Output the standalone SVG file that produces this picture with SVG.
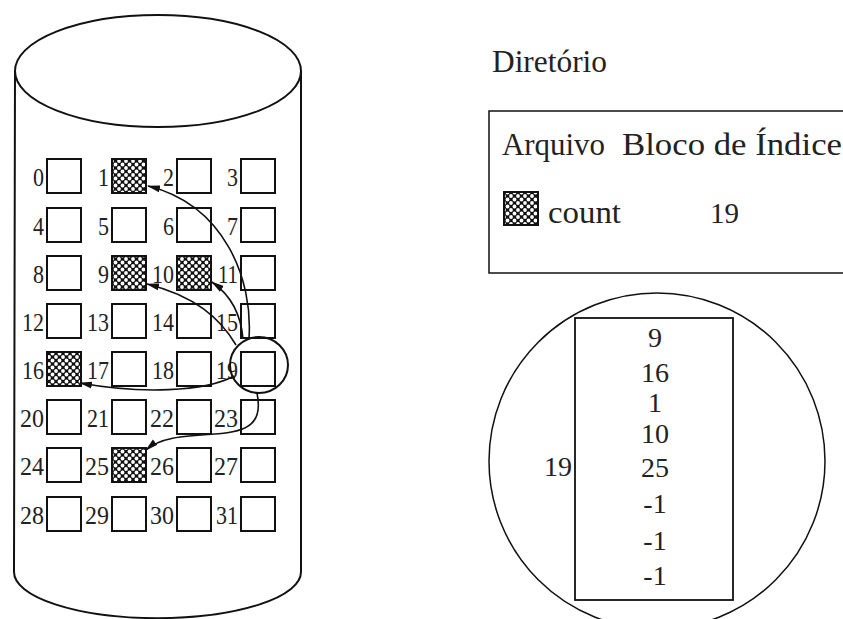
<svg xmlns="http://www.w3.org/2000/svg" width="843" height="619" viewBox="0 0 843 619">
<style>
.line{fill:none;stroke:#111;stroke-width:2}
.thin{fill:none;stroke:#111;stroke-width:1.5}
.blk{fill:#fff;stroke:#111;stroke-width:2}
.hat{fill:url(#hatch);stroke:#111;stroke-width:2}
.lbl{font-family:"Liberation Serif","Times New Roman",serif;font-size:26px;fill:#222;text-anchor:end}
.txt{font-family:"Liberation Serif","Times New Roman",serif;font-size:32px;fill:#222}
.num{font-family:"Liberation Serif","Times New Roman",serif;font-size:28px;fill:#222;text-anchor:middle}
.arr{fill:none;stroke:#111;stroke-width:1.6;marker-end:url(#ah)}
</style>
<defs>
<pattern id="hatch" width="7" height="7" patternUnits="userSpaceOnUse">
<rect width="7" height="7" fill="#111"/>
<circle cx="0" cy="0" r="1.9" fill="#fff"/>
<circle cx="7" cy="0" r="1.9" fill="#fff"/>
<circle cx="0" cy="7" r="1.9" fill="#fff"/>
<circle cx="7" cy="7" r="1.9" fill="#fff"/>
<circle cx="3.5" cy="3.5" r="1.9" fill="#fff"/>
</pattern>
<marker id="ah" markerWidth="13" markerHeight="8" refX="12" refY="4" orient="auto" markerUnits="userSpaceOnUse">
<path d="M0,0.5 L13,4 L0,7.5 Z" fill="#111"/>
</marker>
</defs>
<rect width="843" height="619" fill="#fff"/>

<g id="cylinder">
<ellipse cx="158" cy="71" rx="143" ry="56" class="line"/>
<path d="M15 71 L14 572 A143 46 0 0 0 301 572 L301 71" class="line"/>
</g>

<g id="blocks">
<g id="b0"><rect x="47" y="159" width="34" height="34" class="blk"/><text x="44" y="186" class="lbl" textLength="11" lengthAdjust="spacingAndGlyphs">0</text></g>
<g id="b1"><rect x="112" y="159" width="34" height="34" class="hat"/><text x="109" y="186" class="lbl" textLength="11" lengthAdjust="spacingAndGlyphs">1</text></g>
<g id="b2"><rect x="177" y="159" width="34" height="34" class="blk"/><text x="174" y="186" class="lbl" textLength="11" lengthAdjust="spacingAndGlyphs">2</text></g>
<g id="b3"><rect x="241" y="159" width="34" height="34" class="blk"/><text x="238" y="186" class="lbl" textLength="11" lengthAdjust="spacingAndGlyphs">3</text></g>

<g id="b4"><rect x="47" y="208" width="34" height="34" class="blk"/><text x="44" y="235" class="lbl" textLength="11" lengthAdjust="spacingAndGlyphs">4</text></g>
<g id="b5"><rect x="112" y="208" width="34" height="34" class="blk"/><text x="109" y="235" class="lbl" textLength="11" lengthAdjust="spacingAndGlyphs">5</text></g>
<g id="b6"><rect x="177" y="208" width="34" height="34" class="blk"/><text x="174" y="235" class="lbl" textLength="11" lengthAdjust="spacingAndGlyphs">6</text></g>
<g id="b7"><rect x="241" y="208" width="34" height="34" class="blk"/><text x="238" y="235" class="lbl" textLength="11" lengthAdjust="spacingAndGlyphs">7</text></g>

<g id="b8"><rect x="47" y="256" width="34" height="34" class="blk"/><text x="44" y="283" class="lbl" textLength="11" lengthAdjust="spacingAndGlyphs">8</text></g>
<g id="b9"><rect x="112" y="256" width="34" height="34" class="hat"/><text x="109" y="283" class="lbl" textLength="11" lengthAdjust="spacingAndGlyphs">9</text></g>
<g id="b10"><rect x="177" y="256" width="34" height="34" class="hat"/><text x="174" y="283" class="lbl" textLength="22" lengthAdjust="spacingAndGlyphs">10</text></g>
<g id="b11"><rect x="241" y="256" width="34" height="34" class="blk"/><text x="238" y="283" class="lbl" textLength="20" lengthAdjust="spacingAndGlyphs">11</text></g>

<g id="b12"><rect x="47" y="304" width="34" height="34" class="blk"/><text x="44" y="331" class="lbl" textLength="22" lengthAdjust="spacingAndGlyphs">12</text></g>
<g id="b13"><rect x="112" y="304" width="34" height="34" class="blk"/><text x="109" y="331" class="lbl" textLength="22" lengthAdjust="spacingAndGlyphs">13</text></g>
<g id="b14"><rect x="177" y="304" width="34" height="34" class="blk"/><text x="174" y="331" class="lbl" textLength="22" lengthAdjust="spacingAndGlyphs">14</text></g>
<g id="b15"><rect x="241" y="304" width="34" height="34" class="blk"/><text x="238" y="331" class="lbl" textLength="22" lengthAdjust="spacingAndGlyphs">15</text></g>

<g id="b16"><rect x="47" y="352" width="34" height="34" class="hat"/><text x="44" y="379" class="lbl" textLength="22" lengthAdjust="spacingAndGlyphs">16</text></g>
<g id="b17"><rect x="112" y="352" width="34" height="34" class="blk"/><text x="109" y="379" class="lbl" textLength="22" lengthAdjust="spacingAndGlyphs">17</text></g>
<g id="b18"><rect x="177" y="352" width="34" height="34" class="blk"/><text x="174" y="379" class="lbl" textLength="22" lengthAdjust="spacingAndGlyphs">18</text></g>
<g id="b19"><rect x="241" y="352" width="34" height="34" class="blk"/><text x="238" y="379" class="lbl" textLength="22" lengthAdjust="spacingAndGlyphs">19</text></g>

<g id="b20"><rect x="47" y="400" width="34" height="34" class="blk"/><text x="44" y="427" class="lbl" textLength="24" lengthAdjust="spacingAndGlyphs">20</text></g>
<g id="b21"><rect x="112" y="400" width="34" height="34" class="blk"/><text x="109" y="427" class="lbl" textLength="22" lengthAdjust="spacingAndGlyphs">21</text></g>
<g id="b22"><rect x="177" y="400" width="34" height="34" class="blk"/><text x="174" y="427" class="lbl" textLength="24" lengthAdjust="spacingAndGlyphs">22</text></g>
<g id="b23"><rect x="241" y="400" width="34" height="34" class="blk"/><text x="238" y="427" class="lbl" textLength="24" lengthAdjust="spacingAndGlyphs">23</text></g>

<g id="b24"><rect x="47" y="448" width="34" height="34" class="blk"/><text x="44" y="475" class="lbl" textLength="24" lengthAdjust="spacingAndGlyphs">24</text></g>
<g id="b25"><rect x="112" y="448" width="34" height="34" class="hat"/><text x="109" y="475" class="lbl" textLength="24" lengthAdjust="spacingAndGlyphs">25</text></g>
<g id="b26"><rect x="177" y="448" width="34" height="34" class="blk"/><text x="174" y="475" class="lbl" textLength="24" lengthAdjust="spacingAndGlyphs">26</text></g>
<g id="b27"><rect x="241" y="448" width="34" height="34" class="blk"/><text x="238" y="475" class="lbl" textLength="24" lengthAdjust="spacingAndGlyphs">27</text></g>

<g id="b28"><rect x="47" y="497" width="34" height="34" class="blk"/><text x="44" y="524" class="lbl" textLength="24" lengthAdjust="spacingAndGlyphs">28</text></g>
<g id="b29"><rect x="112" y="497" width="34" height="34" class="blk"/><text x="109" y="524" class="lbl" textLength="24" lengthAdjust="spacingAndGlyphs">29</text></g>
<g id="b30"><rect x="177" y="497" width="34" height="34" class="blk"/><text x="174" y="524" class="lbl" textLength="24" lengthAdjust="spacingAndGlyphs">30</text></g>
<g id="b31"><rect x="241" y="497" width="34" height="34" class="blk"/><text x="238" y="524" class="lbl" textLength="22" lengthAdjust="spacingAndGlyphs">31</text></g>
</g>

<g id="highlight19">
<ellipse cx="259" cy="365" rx="29" ry="28" class="line"/>
</g>

<g id="connectors">
<path d="M249 338 C253 280 225 205 148 186" class="arr"/>
<path d="M236 345 C220 318 195 296 147 284" class="arr"/>
<path d="M243 339 C241 315 232 296 212 282" class="arr"/>
<path d="M234 376 C205 392 140 394 80 383" class="arr"/>
<path d="M257 393 C263 422 250 432 215 434 C180 436 160 438 146 450" class="arr"/>
</g>

<g id="directory">
<text x="492" y="72" class="txt" textLength="115" lengthAdjust="spacingAndGlyphs">Diretório</text>
<rect x="489" y="111" width="360" height="162" class="thin"/>
<text x="502" y="155" class="txt" textLength="103" lengthAdjust="spacingAndGlyphs">Arquivo</text>
<text x="622" y="155" class="txt" textLength="220" lengthAdjust="spacingAndGlyphs">Bloco de Índice</text>
<rect x="504" y="192" width="34" height="33" class="hat"/>
<text x="548" y="223" class="txt" textLength="73" lengthAdjust="spacingAndGlyphs">count</text>
<text x="710" y="223" class="txt" style="font-size:29px">19</text>
</g>

<g id="indexblock">
<circle cx="657" cy="461" r="168" class="thin"/>
<rect x="575" y="318" width="158" height="282" class="line" style="stroke-width:1.8"/>
<text x="572" y="476" class="num" style="text-anchor:end">19</text>
<text x="655" y="347" class="num">9</text>
<text x="655" y="382" class="num">16</text>
<text x="655" y="412" class="num">1</text>
<text x="655" y="443" class="num">10</text>
<text x="655" y="477" class="num">25</text>
<text x="655" y="513" class="num">-1</text>
<text x="655" y="550" class="num">-1</text>
<text x="655" y="585" class="num">-1</text>
</g>
</svg>
